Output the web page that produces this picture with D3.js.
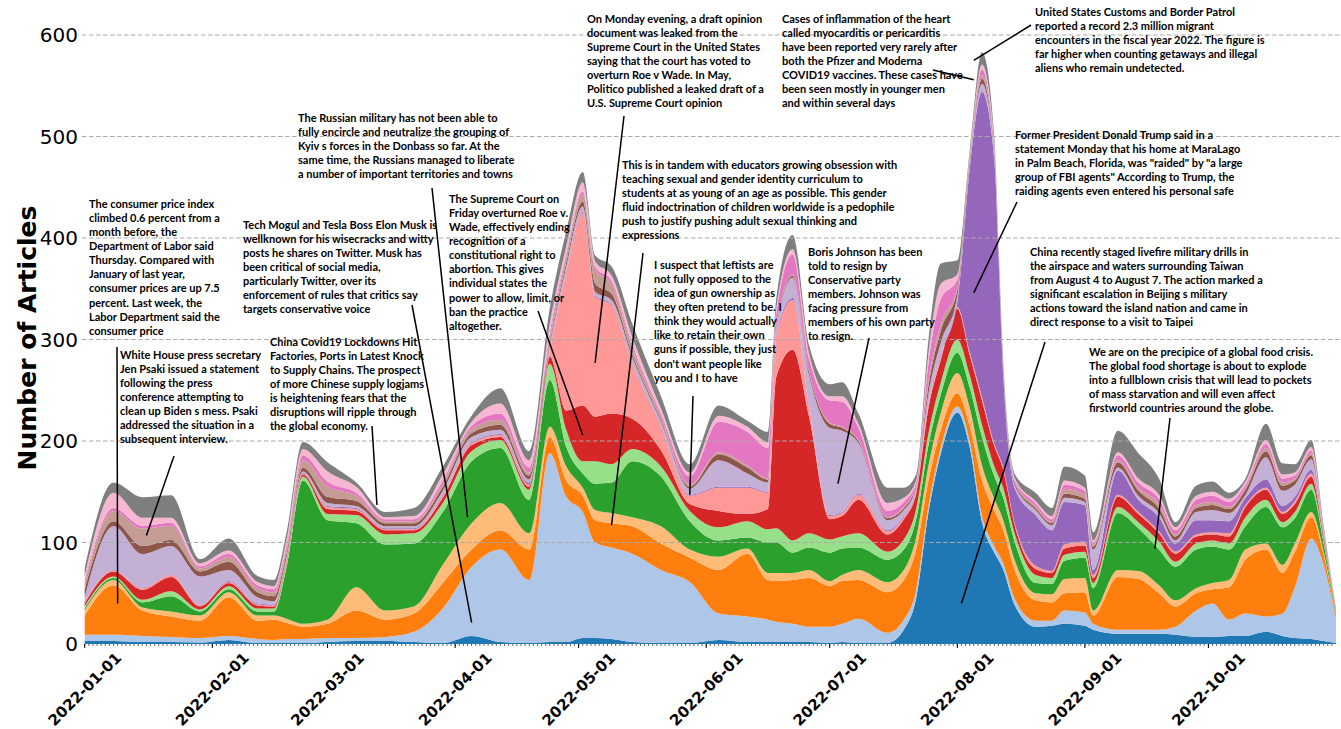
<!DOCTYPE html>
<html>
<head>
<meta charset="utf-8">
<script src="https://cdn.jsdelivr.net/npm/d3@7"></script>
<style>
  html, body { margin: 0; padding: 0; background: #fff; }
  svg { display: block; }
  .note { font-family: Lato, "Open Sans", sans-serif; font-weight: 700; font-size: 11px; fill: #000; }
  .ytick { font-family: "DejaVu Sans", sans-serif; font-size: 20px; fill: #000; }
  .xtick { font-family: "DejaVu Sans", sans-serif; font-weight: bold; font-size: 15px; fill: #000; }
</style>
</head>
<body>
<div id="chart"></div>
<script>
// sample dates (roughly weekly, denser around the spikes)
const dates = [
  "2022-01-01","2022-01-08","2022-01-15","2022-01-22","2022-01-29","2022-02-05","2022-02-12","2022-02-16","2022-02-19","2022-02-23",
  "2022-03-01","2022-03-08","2022-03-15","2022-03-22","2022-03-29","2022-04-05","2022-04-12","2022-04-19","2022-04-24","2022-04-28",
  "2022-05-02","2022-05-05","2022-05-09","2022-05-14","2022-05-21","2022-05-28","2022-06-04","2022-06-11","2022-06-16","2022-06-18",
  "2022-06-22","2022-06-26","2022-07-01","2022-07-04","2022-07-08","2022-07-15","2022-07-19","2022-07-22","2022-07-25","2022-07-28",
  "2022-08-01","2022-08-04","2022-08-07","2022-08-10","2022-08-12","2022-08-15","2022-08-20","2022-08-24","2022-08-27","2022-09-01",
  "2022-09-03","2022-09-09","2022-09-14","2022-09-19","2022-09-23","2022-09-28","2022-10-02","2022-10-06","2022-10-10","2022-10-15",
  "2022-10-19","2022-10-22","2022-10-26","2022-10-29","2022-11-01"
];

// article counts per topic, bottom layer first
const topicBlue = [3,3,2,2,1.5,4,1,1,1,1, 2,3,3,2,1,8,2,1,2,2, 6,6,5,2,1,1,4,2,2,2, 2,2,1,2,1,1,14,45,130,188, 228,194,120,90,75,38,17,18,20,18, 14,10,10,10,9,7,7,8,8,12, 8,6,5,3,1];
const topicLightBlue = [6,6,6,5,4.5,4,4,3,4,4, 4,3,4,10,34,68,91,62,186,143, 124,94,90,87,72,60,26,25,22,20, 18,15,16,18,24,10,10,8,6,6, 6,6,6,6,6,6,6,5,13,13, 6,4,4,4,8,26,33,16,22,15, 22,50,99,75,22];
const topicOrange = [19,49,25,20,17,38,18,20,16,12, 14,27,17,18,25,17,19,30,16,16, 16,22,24,27,26,24,43,62,39,40, 43,48,40,42,38,40,39,40,25,17, 13,15,35,35,33,28,20,18,17,20, 8,52,50,36,20,17,14,32,53,66, 40,35,21,10,2];
const topicLightOrange = [5,5,3,5,5,5,5,4,4,3, 4,23,9,7,18,26,27,16,10,14, 8,10,10,9,17,8,13,5,7,8, 7,8,5,6,10,10,10,12,15,17, 20,18,15,12,10,10,7,8,14,14, 5,7,8,8,6,5,6,7,10,6, 8,8,5,3,1];
const topicGreen = [2,2,5,15,4,3,4,4,50,141, 98,63,65,62,52,61,54,33,46,19, 14,26,30,55,49,28,16,11,30,30, 20,22,28,26,22,22,20,18,20,18, 20,20,28,22,22,18,10,10,18,20, 22,56,42,35,33,38,36,30,23,36, 37,25,22,8,2];
const topicLightGreen = [2,1.5,2.5,5,2,3,3,3,4,4, 6,8,10,10,9,10,8,10,16,17, 12,22,18,12,10,10,13,16,13,14, 12,14,13,12,14,8,10,10,12,12, 13,12,12,10,10,8,8,6,6,6, 5,6,6,8,5,6,6,6,9,7, 5,6,6,3,1];
const topicRed = [3,5,10,14,3,3,3,2,2,2, 5,4,4,3,5,6,3,3,7,19, 55,44,50,30,16,7,16,7,20,149, 188,115,20,20,33,17,20,15,25,22, 30,20,24,20,18,8,6,5,6,6, 5,10,8,8,8,7,6,7,10,10, 8,8,7,3,1];
const topicLightRed = [1.5,1,1.5,2,1,1,1,1,1,1, 2,2,1,1,2,2,2,2,5,135, 190,118,107,54,23,8,23,26,16,40, 49,10,3,3,5,3,2,2,3,3, 2,3,3,2,2,2,3,2,4,4, 3,2,2,2,2,2,2,3,2,2, 2,3,3,1,0.5];
const topicPurple = [0.5,0.5,0.5,0.5,0.5,1,1,1,1,1, 1,1,1,1,1,1,1,2,1,1, 1,1,1,1,1,1,1,1,1,2, 2,1,1,1,1,1,1,1,1,2, 5,180,301,280,100,35,50,40,42,36, 5,24,12,14,8,14,12,12,7,8, 6,4,4,1,0.5];
const topicLightPurple = [4,43,33,28,28,11,6,3,2,1, 3,2,2,2,4,5,4,3,5,6, 5,4,4,6,4,6,26,13,9,5, 20,30,86,80,50,10,6,3,10,12, 6,4,8,5,3,3,5,5,4,3, 20,3,4,4,3,8,10,8,3,22, 15,12,10,2,1];
const topicBrown = [8,5,8,6,5,8,5,5,4,4, 6,5,3,3,4,4,5,4,3,4, 5,8,6,3,2,2,6,6,3,2, 2,3,4,3,2,2,2,2,8,12, 6,3,5,3,2,2,2,2,4,3, 3,5,5,5,4,4,5,4,5,6, 5,4,4,1,0.5];
const topicLightBrown = [5,10,17,14,3,5,4,4,4,7, 10,5,2,2,3,4,5,3,5,6, 7,14,10,7,3,2,2,2,1,1, 1,1,1,1,1,1,1,1,4,6, 2,2,3,2,1,1,2,1,5,4, 2,2,3,4,2,3,3,2,2,3, 3,2,2,1,0.5];
const topicPink = [3,3,3,3,2,3,3,3,4,5, 5,3,2,2,3,3,6,5,5,3, 3,3,3,3,3,8,30,33,30,12, 20,12,22,25,12,6,5,2,18,25, 8,3,6,3,2,2,3,3,4,4, 2,5,5,5,4,5,6,5,3,4, 4,3,3,1,0.5];
const topicLightPink = [5,15,8,5,3,3,3,3,5,6, 10,6,2,3,6,4,10,7,9,7, 9,5,5,7,5,4,6,5,6,5, 5,5,4,5,4,8,4,2,10,15, 5,2,5,3,2,2,2,3,4,3, 2,3,4,4,3,4,4,3,3,4, 4,3,3,1,0.5];
const topicGray = [8,10,20,22,4,12,6,6,7,7, 9,4,5,8,8,6,15,9,15,15, 10,6,9,13,12,8,10,6,10,10, 14,8,12,14,10,15,10,6,13,20, 14,4,12,6,5,4,8,8,14,12, 8,21,25,16,5,10,10,6,3,16, 11,8,7,3,1];

const yTicks = [0, 100, 200, 300, 400, 500, 600];

const notes = [
  {lines: ["The consumer price index", "climbed 0.6 percent from a", "month before, the", "Department of Labor said", "Thursday. Compared with", "January of last year,", "consumer prices are up 7.5", "percent. Last week, the", "Labor Department said the", "consumer price"],
   tx: 89, ty: 204, from: [117, 347], to: ["2022-01-09", 40]},
  {lines: ["White House press secretary", "Jen Psaki issued a statement", "following the press", "conference attempting to", "clean up Biden s mess. Psaki", "addressed the situation in a", "subsequent interview."],
   tx: 120, ty: 355, from: [174, 456], to: ["2022-01-16", 107]},
  {lines: ["Tech Mogul and Tesla Boss Elon Musk is", "wellknown for his wisecracks and witty", "posts he shares on Twitter. Musk has", "been critical of social media,", "particularly Twitter, over its", "enforcement of rules that critics say", "targets conservative voice"],
   tx: 243, ty: 225, from: [412, 305], to: ["2022-04-05", 21]},
  {lines: ["China Covid19 Lockdowns Hit", "Factories, Ports in Latest Knock", "to Supply Chains. The prospect", "of more Chinese supply logjams", "is heightening fears that the", "disruptions will ripple through", "the global economy."],
   tx: 270, ty: 342, from: [372, 426], to: ["2022-03-13", 137]},
  {lines: ["The Russian military has not been able to", "fully encircle and neutralize the grouping of", "Kyiv s forces in the Donbass so far. At the", "same time, the Russians managed to liberate", "a number of important territories and towns"],
   tx: 298, ty: 118, from: [432, 188], to: ["2022-04-04", 125]},
  {lines: ["The Supreme Court on", "Friday overturned Roe v.", "Wade, effectively ending", "recognition of a", "constitutional right to", "abortion. This gives", "individual states the", "power to allow, limit, or", "ban the practice", "altogether."],
   tx: 449, ty: 199, from: [538, 311], to: ["2022-05-02", 206]},
  {lines: ["On Monday evening, a draft opinion", "document was leaked from the", "Supreme Court in the United States", "saying that the court has voted to", "overturn Roe v Wade. In May,", "Politico published a leaked draft of a", "U.S. Supreme Court opinion"],
   tx: 587, ty: 19, from: [624, 116], to: ["2022-05-05", 277]},
  {lines: ["This is in tandem with educators growing obsession with", "teaching sexual and gender identity curriculum to", "students at as young of an age as possible. This gender", "fluid indoctrination of children worldwide is a pedophile", "push to justify pushing adult sexual thinking and", "expressions"],
   tx: 622, ty: 165, from: [643, 253], to: ["2022-05-09", 117]},
  {lines: ["I suspect that leftists are", "not fully opposed to the", "idea of gun ownership as", "they often pretend to be. I", "think they would actually", "like to retain their own", "guns if possible, they just", "don't want people like", "you and I to have"],
   tx: 654, ty: 265, from: [693, 396], to: ["2022-05-28", 147]},
  {lines: ["Boris Johnson has been", "told to resign by", "Conservative party", "members. Johnson was", "facing pressure from", "members of his own party", "to resign."],
   tx: 808, ty: 252, from: [869, 338], to: ["2022-07-03", 158]},
  {lines: ["Cases of inflammation of the heart", "called myocarditis or pericarditis", "have been reported very rarely after", "both the Pfizer and Moderna", "COVID19 vaccines. These cases have", "been seen mostly in younger men", "and within several days"],
   tx: 782, ty: 19, from: [933, 70], to: ["2022-08-05", 556]},
  {lines: ["United States Customs and Border Patrol", "reported a record 2.3 million migrant", "encounters in the fiscal year 2022. The figure is", "far higher when counting getaways and illegal", "aliens who remain undetected."],
   tx: 1035, ty: 12, from: [1031, 25], to: ["2022-08-05", 575]},
  {lines: ["Former President Donald Trump said in a", "statement Monday that his home at MaraLago", "in Palm Beach, Florida, was \"raided\" by \"a large", "group of FBI agents\" According to Trump, the", "raiding agents even entered his personal safe"],
   tx: 1015, ty: 135, from: [1017, 202], to: ["2022-08-05", 346]},
  {lines: ["China recently staged livefire military drills in", "the airspace and waters surrounding Taiwan", "from August 4 to August 7. The action marked a", "significant escalation in Beijing s military", "actions toward the island nation and came in", "direct response to a visit to Taipei"],
   tx: 1030, ty: 252, from: [1045, 342], to: ["2022-08-02", 40]},
  {lines: ["We are on the precipice of a global food crisis.", "The global food shortage is about to explode", "into a fullblown crisis that will lead to pockets", "of mass starvation and will even affect", "firstworld countries around the globe."],
   tx: 1089, ty: 352, from: [1170, 418], to: ["2022-09-18", 94]}
];

const width = 1341, height = 729;
const parse = d3.utcParse("%Y-%m-%d");

const layers = [
  {key: "blue", values: topicBlue, color: "#1f77b4"},
  {key: "lightBlue", values: topicLightBlue, color: "#aec7e8"},
  {key: "orange", values: topicOrange, color: "#ff7f0e"},
  {key: "lightOrange", values: topicLightOrange, color: "#ffbb78"},
  {key: "green", values: topicGreen, color: "#2ca02c"},
  {key: "lightGreen", values: topicLightGreen, color: "#98df8a"},
  {key: "red", values: topicRed, color: "#d62728"},
  {key: "lightRed", values: topicLightRed, color: "#ff9896"},
  {key: "purple", values: topicPurple, color: "#9467bd"},
  {key: "lightPurple", values: topicLightPurple, color: "#c5b0d5"},
  {key: "brown", values: topicBrown, color: "#8c564b"},
  {key: "lightBrown", values: topicLightBrown, color: "#c49c94"},
  {key: "pink", values: topicPink, color: "#e377c2"},
  {key: "lightPink", values: topicLightPink, color: "#f7b6d2"},
  {key: "gray", values: topicGray, color: "#7f7f7f"}
];

const table = dates.map((d, i) => {
  const row = {date: parse(d)};
  layers.forEach(l => row[l.key] = l.values[i]);
  return row;
});

const stacked = d3.stack().keys(layers.map(l => l.key))(table);

const x = d3.scaleUtc()
  .domain([parse("2022-01-01"), parse("2022-11-01")])
  .range([84.7, 1336]);

const y = d3.scaleLinear()
  .domain([0, 600])
  .range([644, 35]);

const svg = d3.select("#chart").append("svg")
  .attr("width", width)
  .attr("height", height);

const area = d3.area()
  .x(d => x(d.data.date))
  .y0(d => y(d[0]))
  .y1(d => y(d[1]))
  .curve(d3.curveMonotoneX);

svg.append("g")
  .selectAll("path")
  .data(stacked)
  .join("path")
  .attr("d", area)
  .attr("fill", (d, i) => layers[i].color);

// dashed grid on top of the areas
svg.append("g")
  .selectAll("line")
  .data(yTicks.filter(t => t > 0))
  .join("line")
  .attr("x1", 82).attr("x2", width)
  .attr("y1", d => y(d)).attr("y2", d => y(d))
  .attr("stroke", "#aaaaaa")
  .attr("stroke-width", 1.2)
  .attr("stroke-dasharray", "4.5,2.5");

// y tick labels
svg.append("g")
  .selectAll("text")
  .data(yTicks)
  .join("text")
  .attr("class", "ytick")
  .attr("x", 78)
  .attr("y", d => y(d))
  .attr("dy", "0.36em")
  .attr("text-anchor", "end")
  .text(d => d);

svg.append("text")
  .attr("transform", "translate(36,338) rotate(-90)")
  .attr("text-anchor", "middle")
  .attr("font-family", "DejaVu Sans, sans-serif")
  .attr("font-weight", "bold")
  .attr("font-size", 25)
  .text("Number of Articles");

// x axis: daily minor ticks, monthly major ticks with rotated labels
const start = parse("2022-01-01"), end = parse("2022-11-01");
svg.append("g")
  .selectAll("line")
  .data(d3.utcDay.range(start, end))
  .join("line")
  .attr("x1", d => x(d)).attr("x2", d => x(d))
  .attr("y1", 644).attr("y2", 646)
  .attr("stroke", "#000")
  .attr("stroke-width", 0.6);

const months = d3.utcMonth.range(start, end);
svg.append("g")
  .selectAll("line")
  .data(months)
  .join("line")
  .attr("x1", d => x(d)).attr("x2", d => x(d))
  .attr("y1", 644).attr("y2", 648)
  .attr("stroke", "#000")
  .attr("stroke-width", 1);

const fmt = d3.utcFormat("%Y-%m-%d");
svg.append("g")
  .selectAll("text")
  .data(months)
  .join("text")
  .attr("class", "xtick")
  .attr("text-anchor", "middle")
  .attr("dy", "0.35em")
  .attr("transform", d => `translate(${x(d)},689) rotate(-45)`)
  .text(d => fmt(d));

// annotations
const lineH = 14.1;
const ann = svg.append("g");
notes.forEach(n => {
  ann.append("line")
    .attr("x1", n.from[0]).attr("y1", n.from[1])
    .attr("x2", x(parse(n.to[0]))).attr("y2", y(n.to[1]))
    .attr("stroke", "#000")
    .attr("stroke-width", 1.5);
  const t = ann.append("text").attr("class", "note");
  n.lines.forEach((s, i) => {
    t.append("tspan")
      .attr("x", n.tx)
      .attr("y", n.ty + i * lineH)
      .attr("dy", "0.35em")
      .text(s);
  });
});
</script>
</body>
</html>
